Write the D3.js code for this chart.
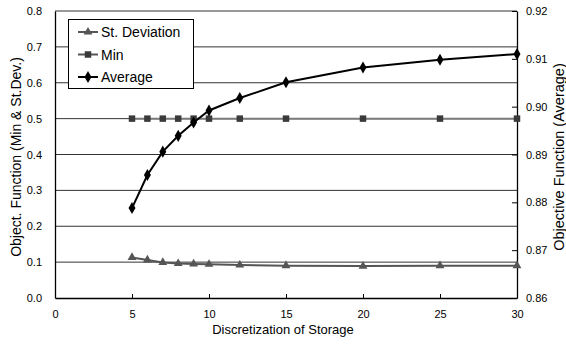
<!DOCTYPE html>
<html>
<head>
<meta charset="utf-8">
<script src="https://cdn.jsdelivr.net/npm/d3@7"></script>
<style>
  body { margin: 0; background: #fff; }
  text { font-family: "Liberation Sans", Arial, sans-serif; fill: #000; }
</style>
</head>
<body>
<svg id="chart" width="566" height="344"></svg>
<script>
// discretization levels
var steps = [5, 6, 7, 8, 9, 10, 12, 15, 20, 25, 30];
// left axis series
var stDev = [0.113, 0.106, 0.099, 0.096, 0.095, 0.094, 0.092, 0.090, 0.089, 0.090, 0.090];
var minVals = [0.5, 0.5, 0.5, 0.5, 0.5, 0.5, 0.5, 0.5, 0.5, 0.5, 0.5];
// right axis series
var average = [0.8788, 0.8857, 0.8906, 0.8939, 0.8967, 0.8992, 0.9018, 0.9051, 0.9082, 0.9098, 0.9110];

var xTicks = [0, 5, 10, 15, 20, 25, 30];
var leftTicks = [0, 0.1, 0.2, 0.3, 0.4, 0.5, 0.6, 0.7, 0.8];
var rightTicks = [0.86, 0.87, 0.88, 0.89, 0.90, 0.91, 0.92];

var svg = d3.select("#chart");
var plotL = 55, plotR = 517, plotT = 11, plotB = 298;

var x = d3.scaleLinear().domain([0, 30]).range([plotL, plotR]);
var yL = d3.scaleLinear().domain([0, 0.8]).range([plotB, plotT]);
var yR = d3.scaleLinear().domain([0.86, 0.92]).range([plotB, plotT]);

// gridlines from left axis
svg.append("g")
  .selectAll("line")
  .data(leftTicks.slice(1))
  .enter()
  .append("line")
  .attr("x1", plotL)
  .attr("x2", plotR)
  .attr("y1", function (d) { return yL(d); })
  .attr("y2", function (d) { return yL(d); })
  .attr("stroke", "#333")
  .attr("stroke-width", 1);

// axes
var gx = svg.append("g")
  .attr("transform", "translate(0," + plotB + ")")
  .call(d3.axisBottom(x).tickValues(xTicks).tickFormat(d3.format("d"))
    .tickSizeInner(-4).tickSizeOuter(0).tickPadding(12));
var gl = svg.append("g")
  .attr("transform", "translate(" + plotL + ",0)")
  .call(d3.axisLeft(yL).tickValues(leftTicks).tickFormat(d3.format(".1f"))
    .tickSizeInner(0).tickSizeOuter(0).tickPadding(13));
var gr = svg.append("g")
  .attr("transform", "translate(" + plotR + ",0)")
  .call(d3.axisRight(yR).tickValues(rightTicks).tickFormat(d3.format(".2f"))
    .tickSizeInner(-5).tickSizeOuter(0).tickPadding(9));

[gx, gl, gr].forEach(function (g) {
  g.selectAll("path").attr("stroke", "#000").attr("stroke-width", 1.3);
  g.selectAll("line").attr("stroke", "#000");
  g.selectAll("text").style("font-size", "11px").style("font-family", "Liberation Sans, Arial, sans-serif");
});

// series
var series = [
  { name: "St. Deviation", vals: stDev, y: yL, line: "#555", mark: "#555", key: "#555", sym: d3.symbolTriangle, size: 34 },
  { name: "Min", vals: minVals, y: yL, line: "#7a7a7a", mark: "#3a3a3a", key: "#555", sym: d3.symbolSquare, size: 42 },
  { name: "Average", vals: average, y: yR, line: "#000", mark: "#000", key: "#000", sym: d3.symbolDiamond, size: 42 }
];

series.forEach(function (s) {
  var pts = steps.map(function (d, i) { return [d, s.vals[i]]; });
  svg.append("path")
    .datum(pts)
    .attr("fill", "none")
    .attr("stroke", s.line)
    .attr("stroke-width", 2)
    .attr("d", d3.line()
      .x(function (d) { return x(d[0]); })
      .y(function (d) { return s.y(d[1]); }));
  svg.append("g")
    .selectAll("path")
    .data(pts)
    .enter()
    .append("path")
    .attr("d", d3.symbol().type(s.sym).size(s.size))
    .attr("transform", function (d) { return "translate(" + x(d[0]) + "," + s.y(d[1]) + ")"; })
    .attr("fill", s.mark);
});

// legend
var lg = svg.append("g");
lg.append("rect")
  .attr("x", 68.5).attr("y", 19.5)
  .attr("width", 125).attr("height", 69)
  .attr("fill", "#fff").attr("stroke", "#000").attr("stroke-width", 1);
series.forEach(function (s, i) {
  var yy = 32 + i * 22.5;
  lg.append("line")
    .attr("x1", 78).attr("x2", 98)
    .attr("y1", yy).attr("y2", yy)
    .attr("stroke", s.key).attr("stroke-width", 2);
  lg.append("path")
    .attr("d", d3.symbol().type(s.sym).size(s.size))
    .attr("transform", "translate(88," + yy + ")")
    .attr("fill", s.mark);
  lg.append("text")
    .attr("x", 101).attr("y", yy + 5)
    .style("font-size", "14px")
    .text(s.name);
});

// axis titles
svg.append("text")
  .attr("x", (plotL + plotR) / 2 - 3).attr("y", 334)
  .attr("text-anchor", "middle")
  .style("font-size", "13px")
  .text("Discretization of Storage");
svg.append("text")
  .attr("transform", "translate(21,157) rotate(-90)")
  .attr("text-anchor", "middle")
  .style("font-size", "14px")
  .text("Object. Function (Min & St.Dev.)");
svg.append("text")
  .attr("transform", "translate(564,157) rotate(-90)")
  .attr("text-anchor", "middle")
  .style("font-size", "14.5px")
  .text("Objective Function (Average)");
</script>
</body>
</html>
